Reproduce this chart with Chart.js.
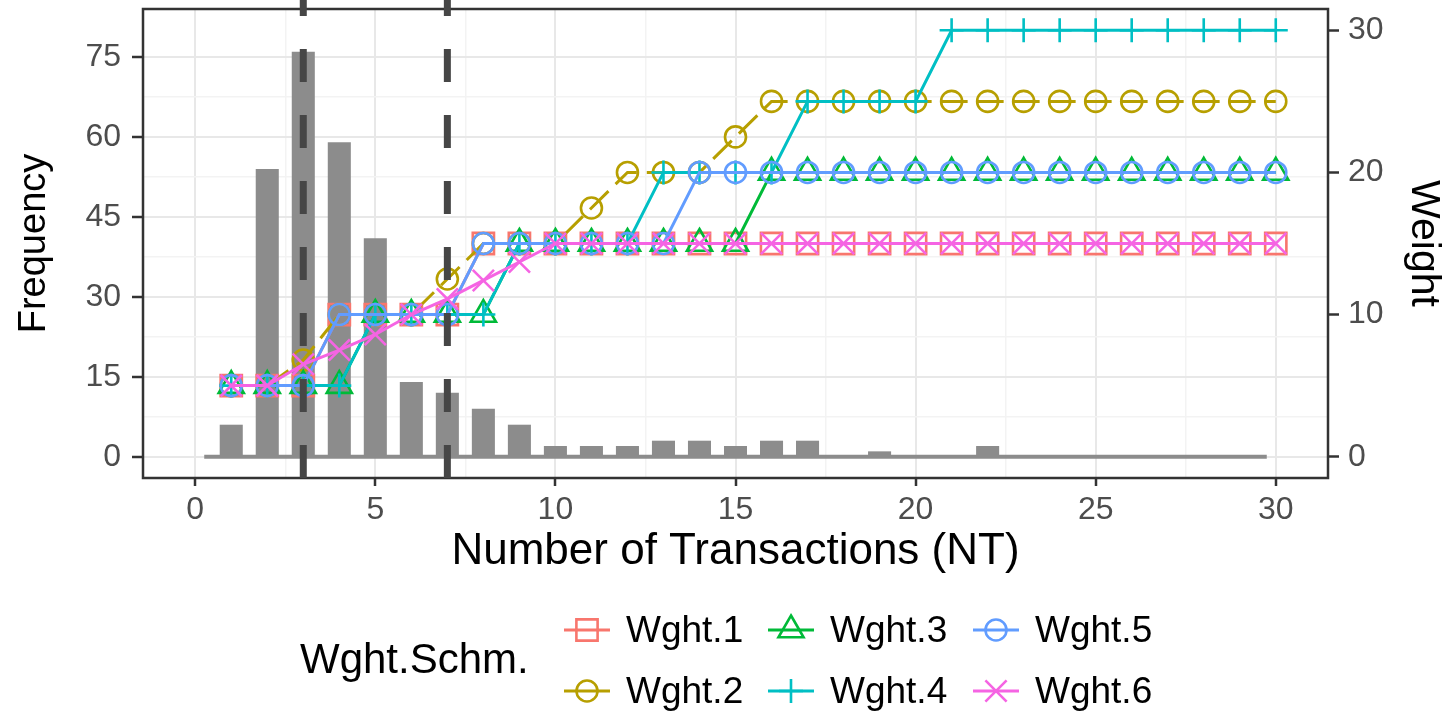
<!DOCTYPE html>
<html>
<head>
<meta charset="utf-8">
<script src="https://cdn.jsdelivr.net/npm/chart.js@4.4.1/dist/chart.umd.min.js"></script>
<style>
    body { margin: 0; background: #fff; }
    #wrap { position: relative; width: 1448px; height: 714px; font-family: 'Liberation Sans', Arial, sans-serif; }
    #legendTitle { position: absolute; left: 300px; top: 634px; font-size: 42px; line-height: 50px; color: #000; }
    .item { position: absolute; height: 40px; display: flex; align-items: center; }
    .item canvas { display: block; }
    .item span { font-size: 37px; color: #000; margin-left: 14px; }
</style>
</head>
<body>
<div id="wrap">
    <canvas id="myChart" width="1448" height="714"></canvas>
    <div id="legendTitle">Wght.Schm.</div>
    <div id="legend"></div>
</div>
<script>
// Number of transactions
const nt = [1, 2, 3, 4, 5, 6, 7, 8, 9, 10, 11, 12, 13, 14, 15, 16, 17, 18, 19, 20, 21, 22, 23, 24, 25, 26, 27, 28, 29, 30];

// Frequency (histogram bars)
const freq = [6, 54, 76, 59, 41, 14, 12, 9, 6, 2, 2, 2, 3, 3, 2, 3, 3, 0, 1, 0, 0, 2, 0, 0, 0, 0, 0, 0, 0, 0];
const baseX = [0.25, 29.75];

// Weights of each scheme
const wght1 = [5, 5, 5, 10, 10, 10, 10, 15, 15, 15, 15, 15, 15, 15, 15, 15, 15, 15, 15, 15, 15, 15, 15, 15, 15, 15, 15, 15, 15, 15];
const wght2 = [5, 5, 6.8, 10, 10, 10, 12.5, 15, 15, 15, 17.5, 20, 20, 20, 22.5, 25, 25, 25, 25, 25, 25, 25, 25, 25, 25, 25, 25, 25, 25, 25];
const wght3 = [5, 5, 5, 5, 10, 10, 10, 10, 15, 15, 15, 15, 15, 15, 15, 20, 20, 20, 20, 20, 20, 20, 20, 20, 20, 20, 20, 20, 20, 20];
const wght4 = [5, 5, 5, 5, 10, 10, 10, 10, 15, 15, 15, 15, 20, 20, 20, 20, 25, 25, 25, 25, 30, 30, 30, 30, 30, 30, 30, 30, 30, 30];
const wght5 = [5, 5, 5, 10, 10, 10, 10, 15, 15, 15, 15, 15, 15, 20, 20, 20, 20, 20, 20, 20, 20, 20, 20, 20, 20, 20, 20, 20, 20, 20];
const wght6 = [5, 5, 6.5, 7.5, 8.6, 10, 11.1, 12.4, 13.7, 15, 15, 15, 15, 15, 15, 15, 15, 15, 15, 15, 15, 15, 15, 15, 15, 15, 15, 15, 15, 15];

// Cut-off lines
const cutoffs = [3, 7];

// Axis ticks (majors get labels, the others are minor grid lines)
const xTicks = [0, 2.5, 5, 7.5, 10, 12.5, 15, 17.5, 20, 22.5, 25, 27.5, 30];
const freqTicks = [0, 7.5, 15, 22.5, 30, 37.5, 45, 52.5, 60, 67.5, 75];
const weightTicks = [0, 10, 20, 30];

const schemes = [
    { label: 'Wght.1', data: wght1, color: '#F8766D', style: 'rect', r: 15 },
    { label: 'Wght.2', data: wght2, color: '#B79F00', style: 'circle', r: 10.5, dash: [26, 10] },
    { label: 'Wght.3', data: wght3, color: '#00BA38', style: 'triangle', r: 14.5 },
    { label: 'Wght.4', data: wght4, color: '#00BFC4', style: 'cross', r: 12 },
    { label: 'Wght.5', data: wght5, color: '#619CFF', style: 'circle', r: 10.5 },
    { label: 'Wght.6', data: wght6, color: '#F564E3', style: 'crossRot', r: 15 }
];

const fontFamily = "'Liberation Sans', Arial, sans-serif";
Chart.defaults.font.family = fontFamily;

const datasets = [];
datasets.push({
    type: 'bar',
    data: nt.map((x, i) => ({ x: x, y: freq[i] })),
    backgroundColor: '#8c8c8c',
    borderWidth: 0,
    barPercentage: 0.64,
    categoryPercentage: 1,
    yAxisID: 'yF',
    order: 20
});
datasets.push({
    type: 'line',
    data: baseX.map(x => ({ x: x, y: 0 })),
    borderColor: '#8c8c8c',
    borderWidth: 4,
    pointRadius: 0,
    yAxisID: 'yF',
    order: 19
});
schemes.forEach((s, k) => {
    datasets.push({
        type: 'line',
        label: s.label,
        data: nt.map((x, i) => ({ x: x, y: s.data[i] })),
        borderColor: s.color,
        borderWidth: 3,
        borderDash: s.dash || [],
        pointStyle: s.style,
        pointRadius: s.r,
        pointBorderWidth: 2.6,
        pointBorderColor: s.color,
        pointBackgroundColor: 'rgba(0,0,0,0)',
        fill: false,
        tension: 0,
        yAxisID: 'yW',
        order: 10 - k
    });
});

const isMajorX = v => v % 5 === 0;
const isMajorF = v => v % 15 === 0;

// no extra room for half labels, the plot box is fixed
const fixV = w => scale => { scale.width = w; scale.paddingTop = 0; scale.paddingBottom = 0; };

// panel border and the dashed cut-off lines
const overlay = {
    id: 'overlay',
    afterDatasetsDraw(chart) {
        const { ctx, chartArea } = chart;
        ctx.save();
        ctx.strokeStyle = '#333333';
        ctx.lineWidth = 2.5;
        ctx.strokeRect(chartArea.left, chartArea.top, chartArea.right - chartArea.left, chartArea.bottom - chartArea.top);
        ctx.strokeStyle = '#464646';
        ctx.lineWidth = 7;
        ctx.setLineDash([33, 33]);
        cutoffs.forEach(v => {
            const px = chart.scales.x.getPixelForValue(v);
            ctx.beginPath();
            ctx.moveTo(px, chartArea.bottom);
            ctx.lineTo(px, 0);
            ctx.stroke();
        });
        ctx.restore();
    }
};

const ctx = document.getElementById('myChart').getContext('2d');
const myChart = new Chart(ctx, {
    type: 'bar',
    data: { datasets: datasets },
    options: {
        responsive: false,
        animation: false,
        layout: { autoPadding: false, padding: { top: 9, bottom: 136, left: 0, right: 0 } },
        plugins: { legend: { display: false }, tooltip: { enabled: false } },
        scales: {
            x: {
                type: 'linear',
                min: -1.45,
                max: 31.45,
                offset: false,
                afterBuildTicks: scale => { scale.ticks = xTicks.map(v => ({ value: v })); },
                afterFit: scale => { scale.height = 100; scale.paddingLeft = 0; scale.paddingRight = 0; },
                grid: {
                    offset: false,
                    color: c => isMajorX(c.tick.value) ? '#e8e8e8' : '#f3f3f3',
                    lineWidth: c => isMajorX(c.tick.value) ? 2 : 1.5,
                    tickColor: c => isMajorX(c.tick.value) ? '#333333' : 'rgba(0,0,0,0)',
                    tickWidth: 2.5,
                    tickLength: 8
                },
                border: { display: false },
                ticks: {
                    autoSkip: false,
                    maxRotation: 0,
                    padding: 5,
                    color: '#4d4d4d',
                    font: { size: 32 },
                    callback: v => isMajorX(v) ? v : ''
                },
                title: {
                    display: true,
                    text: 'Number of Transactions (NT)',
                    color: '#000',
                    font: { size: 44 },
                    padding: { top: 0, bottom: 0 }
                }
            },
            yF: {
                type: 'linear',
                position: 'left',
                min: -4,
                max: 84,
                afterBuildTicks: scale => { scale.ticks = freqTicks.map(v => ({ value: v })); },
                afterFit: fixV(143),
                grid: {
                    color: c => isMajorF(c.tick.value) ? '#e8e8e8' : '#f3f3f3',
                    lineWidth: c => isMajorF(c.tick.value) ? 2 : 1.5,
                    tickColor: c => isMajorF(c.tick.value) ? '#333333' : 'rgba(0,0,0,0)',
                    tickWidth: 2.5,
                    tickLength: 11
                },
                border: { display: false },
                ticks: {
                    autoSkip: false,
                    padding: 11,
                    color: '#4d4d4d',
                    font: { size: 32 },
                    callback: v => isMajorF(v) ? v : ''
                },
                title: {
                    display: true,
                    text: 'Frequency',
                    color: '#000',
                    font: { size: 38 },
                    padding: { top: 12, bottom: 0 }
                }
            },
            yW: {
                type: 'linear',
                position: 'right',
                min: -1.5,
                max: 31.5,
                afterBuildTicks: scale => { scale.ticks = weightTicks.map(v => ({ value: v })); },
                afterFit: fixV(120),
                grid: {
                    drawOnChartArea: false,
                    tickColor: '#333333',
                    tickWidth: 2.5,
                    tickLength: 11
                },
                border: { display: false },
                ticks: {
                    autoSkip: false,
                    padding: 9,
                    color: '#4d4d4d',
                    font: { size: 32 }
                },
                title: {
                    display: true,
                    text: 'Weight',
                    color: '#000',
                    font: { size: 41 },
                    padding: { top: 0, bottom: 0 }
                }
            }
        }
    },
    plugins: [overlay]
});

// Legend: two rows, filled column by column
const legend = document.getElementById('legend');
const colLeft = [562, 766, 971];
const rowMid = [630, 691];
schemes.forEach((s, k) => {
    const col = Math.floor(k / 2);
    const row = k % 2;
    const item = document.createElement('div');
    item.className = 'item';
    item.style.left = colLeft[col] + 'px';
    item.style.top = (rowMid[row] - 20) + 'px';
    const c = document.createElement('canvas');
    c.width = 50;
    c.height = 40;
    const g = c.getContext('2d');
    g.strokeStyle = s.color;
    g.lineWidth = 3;
    g.beginPath();
    g.moveTo(2, 20);
    g.lineTo(48, 20);
    g.stroke();
    g.fillStyle = 'rgba(0,0,0,0)';
    g.lineWidth = 2.6;
    Chart.helpers.drawPoint(g, { pointStyle: s.style, radius: s.r, rotation: 0, borderWidth: 2.6 }, 25, 20);
    const span = document.createElement('span');
    span.textContent = s.label;
    item.appendChild(c);
    item.appendChild(span);
    legend.appendChild(item);
});
</script>
</body>
</html>
